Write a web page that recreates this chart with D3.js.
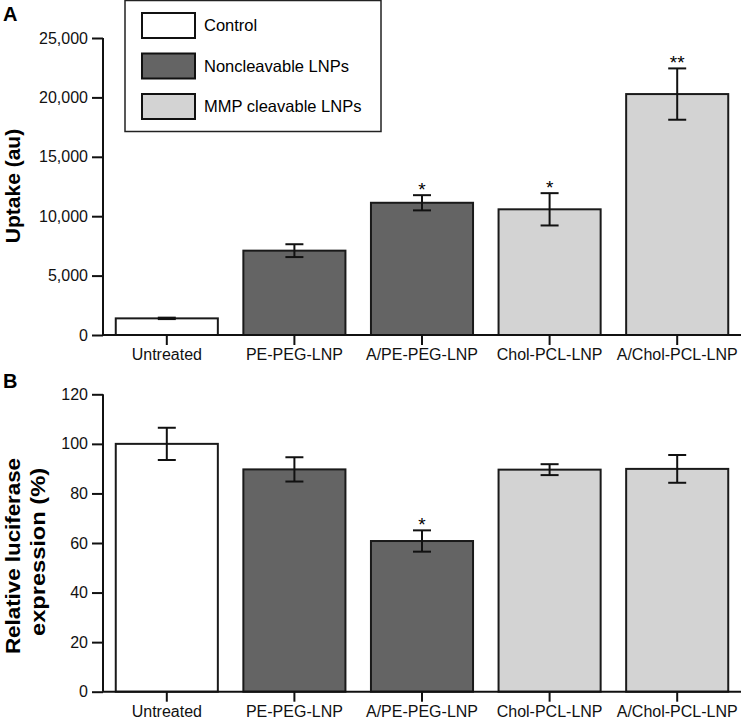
<!DOCTYPE html>
<html><head><meta charset="utf-8">
<script src="https://cdn.jsdelivr.net/npm/d3@7"></script>
<style>body{margin:0;background:#fff}svg{display:block}text{font-family:"Liberation Sans",Arial,sans-serif}</style>
</head><body><svg id="c" width="741" height="720"></svg>
<script>
const categories = ["Untreated","PE-PEG-LNP","A/PE-PEG-LNP","Chol-PCL-LNP","A/Chol-PCL-LNP"];
const groups = ["Control","Noncleavable LNPs","Noncleavable LNPs","MMP cleavable LNPs","MMP cleavable LNPs"];
const uptakeValues = [1400, 7100, 11130, 10580, 20280];
const uptakeErrors = [60, 540, 640, 1360, 2160];
const uptakeSig = ["", "", "*", "*", "**"];
const uptakeTicks = [0, 5000, 10000, 15000, 20000, 25000];
const lucValues = [100, 89.7, 60.8, 89.6, 89.9];
const lucErrors = [6.5, 4.9, 4.3, 2.2, 5.6];
const lucSig = ["", "", "*", "", ""];
const lucTicks = [0, 20, 40, 60, 80, 100, 120];
const legendItems = ["Control","Noncleavable LNPs","MMP cleavable LNPs"];
const colors = {"Control":"#ffffff","Noncleavable LNPs":"#646464","MMP cleavable LNPs":"#d3d3d3"};

const svg = d3.select("#c");
const x = d3.scaleBand().domain(categories).range([103, 741]).paddingInner(0.2).paddingOuter(0.1);

function panel(opts){
  const y = d3.scaleLinear().domain(opts.domain).range(opts.range);
  const g = svg.append("g");
  g.selectAll("rect.bar").data(categories).join("rect")
    .attr("x", d=>x(d)).attr("width", x.bandwidth())
    .attr("y", (d,i)=>y(opts.values[i])).attr("height",(d,i)=>y(0)-y(opts.values[i]))
    .attr("fill",(d,i)=>colors[groups[i]]).attr("stroke","#1a1a1a").attr("stroke-width",2);
  const eb = g.selectAll("g.eb").data(categories).join("g");
  eb.append("line").attr("x1",d=>x(d)+x.bandwidth()/2).attr("x2",d=>x(d)+x.bandwidth()/2)
    .attr("y1",(d,i)=>y(opts.values[i]+opts.errors[i])).attr("y2",(d,i)=>y(opts.values[i]-opts.errors[i]))
    .attr("stroke","#111").attr("stroke-width",2);
  [1,-1].forEach(s=>{
    eb.append("line").attr("x1",d=>x(d)+x.bandwidth()/2-9).attr("x2",d=>x(d)+x.bandwidth()/2+9)
      .attr("y1",(d,i)=>y(opts.values[i]+s*opts.errors[i])).attr("y2",(d,i)=>y(opts.values[i]+s*opts.errors[i]))
      .attr("stroke","#111").attr("stroke-width",2);
  });
  eb.append("text").attr("x",d=>x(d)+x.bandwidth()/2)
    .attr("y",(d,i)=>y(opts.values[i]+opts.errors[i])+1)
    .attr("text-anchor","middle").attr("font-size",19)
    .text((d,i)=>opts.sig[i]);
  const ya = g.append("g").attr("transform","translate(103,0)")
    .call(d3.axisLeft(y).tickValues(opts.ticks).tickSize(11).tickPadding(4).tickFormat(opts.fmt));
  ya.select(".domain").attr("stroke","#111").attr("stroke-width",2).attr("d",`M0,${y(0)}V${y(opts.domain[1])}`);
  ya.selectAll(".tick line").attr("stroke","#111").attr("stroke-width",2);
  ya.selectAll(".tick text").attr("font-size",16).attr("fill","#111").attr("font-family","Liberation Sans, Arial, sans-serif");
  const xa = g.append("g").attr("transform",`translate(0,${y(0)})`)
    .call(d3.axisBottom(x).tickSize(10).tickPadding(4));
  xa.select(".domain").attr("stroke","#111").attr("stroke-width",2).attr("d",`M103,0H741`);
  xa.selectAll(".tick line").attr("stroke","#111").attr("stroke-width",2);
  xa.selectAll(".tick text").attr("font-size",16).attr("fill","#111").attr("font-family","Liberation Sans, Arial, sans-serif");
  return y;
}

panel({domain:[0,25000], range:[335,38], values:uptakeValues, errors:uptakeErrors, sig:uptakeSig, ticks:uptakeTicks, fmt:d3.format(",")});
panel({domain:[0,120], range:[691.7,394.3], values:lucValues, errors:lucErrors, sig:lucSig, ticks:lucTicks, fmt:d3.format("d")});

svg.append("text").attr("x",3).attr("y",21).attr("font-size",20).attr("font-weight","bold").text("A");
svg.append("text").attr("x",3).attr("y",388).attr("font-size",20).attr("font-weight","bold").text("B");

svg.append("text").attr("transform","translate(19.5,186) rotate(-90)").attr("text-anchor","middle")
  .attr("font-size",21).attr("font-weight","bold").text("Uptake (au)");
svg.append("text").attr("transform","translate(19.5,556) rotate(-90)").attr("text-anchor","middle")
  .attr("font-size",20.5).attr("font-weight","bold")
  .attr("textLength",196).attr("lengthAdjust","spacingAndGlyphs").text("Relative luciferase");
svg.append("text").attr("transform","translate(45,552) rotate(-90)").attr("text-anchor","middle")
  .attr("font-size",20.5).attr("font-weight","bold")
  .attr("textLength",168).attr("lengthAdjust","spacingAndGlyphs").text("expression (%)");

const lg = svg.append("g");
lg.append("rect").attr("x",125).attr("y",0.5).attr("width",256).attr("height",131)
  .attr("fill","#fff").attr("stroke","#222").attr("stroke-width",1.5);
legendItems.forEach((k,i)=>{
  lg.append("rect").attr("x",142).attr("y",13+i*40.5).attr("width",53).attr("height",25)
    .attr("fill",colors[k]).attr("stroke","#111").attr("stroke-width",2);
  lg.append("text").attr("x",204).attr("y",25.5+i*40.5).attr("dy","0.35em").attr("font-size",16.5).text(k);
});
</script></body></html>
